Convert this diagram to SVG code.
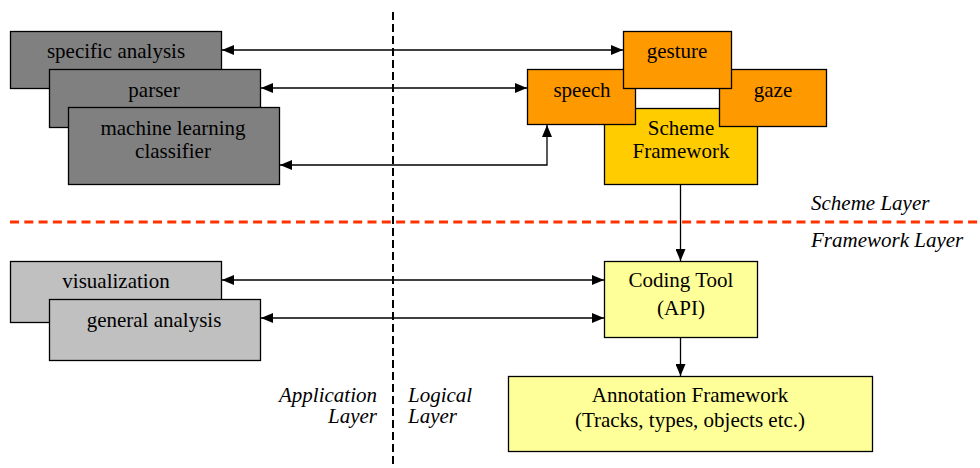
<svg xmlns="http://www.w3.org/2000/svg" width="980" height="468" viewBox="0 0 980 468" font-family="'Liberation Serif', 'Times New Roman', serif">
  <defs>
    <marker id="arrow" viewBox="0 0 12 10" refX="12" refY="5" markerWidth="12" markerHeight="10" markerUnits="userSpaceOnUse" orient="auto-start-reverse">
      <path d="M0,0 L12,5 L0,10 Z" fill="#000"/>
    </marker>
  </defs>
  <style>
    .box { stroke: #000; stroke-width: 1.3; }
    .dark { fill: #808080; }
    .light { fill: #c0c0c0; }
    .orange { fill: #ff9900; }
    .scheme { fill: #ffcc00; }
    .pale { fill: #ffff99; }
    .t { font-family: 'Liberation Serif', 'Times New Roman', serif; font-size: 21px; fill: #000; }
    .c { text-anchor: middle; }
    .it { font-style: italic; }
    .link { fill: none; stroke: #000; stroke-width: 1.3; }
  </style>
  <rect width="980" height="468" fill="#fff"/>

  <!-- layer separators -->
  <line x1="393" y1="12" x2="393" y2="468" stroke="#000" stroke-width="2" stroke-dasharray="8 4"/>
  <line x1="10" y1="222" x2="980" y2="222" stroke="#ff3300" stroke-width="3" stroke-dasharray="9 5.3"/>

  <!-- application layer: scheme-specific tools -->
  <g id="specific-analysis">
    <rect class="box dark" x="10.5" y="31.5" width="211" height="57"/>
    <text class="t c" x="116" y="58">specific analysis</text>
  </g>
  <g id="parser">
    <rect class="box dark" x="49.5" y="69.5" width="211" height="58"/>
    <text class="t c" x="154" y="97">parser</text>
  </g>
  <g id="ml-classifier">
    <rect class="box dark" x="68.5" y="107.5" width="211" height="77"/>
    <text class="t c" x="173" y="135">machine learning</text>
    <text class="t c" x="173" y="158">classifier</text>
  </g>

  <!-- scheme layer -->
  <g id="scheme-framework">
    <rect class="box scheme" x="604.5" y="108.5" width="153" height="76"/>
    <text class="t c" x="681" y="135">Scheme</text>
    <text class="t c" x="681" y="158">Framework</text>
  </g>
  <g id="speech">
    <rect class="box orange" x="527.5" y="69.5" width="108" height="55"/>
    <text class="t c" x="582" y="97">speech</text>
  </g>
  <g id="gaze">
    <rect class="box orange" x="719.5" y="69.5" width="107" height="57"/>
    <text class="t c" x="773" y="97">gaze</text>
  </g>
  <g id="gesture">
    <rect class="box orange" x="623.5" y="31.5" width="108" height="57"/>
    <text class="t c" x="677" y="58">gesture</text>
  </g>

  <!-- application layer: general tools -->
  <g id="visualization">
    <rect class="box light" x="10.5" y="261.5" width="211" height="61"/>
    <text class="t c" x="116" y="288">visualization</text>
  </g>
  <g id="general-analysis">
    <rect class="box light" x="49.5" y="299.5" width="211" height="61"/>
    <text class="t c" x="154" y="327">general analysis</text>
  </g>

  <!-- framework layer -->
  <g id="coding-tool">
    <rect class="box pale" x="604.5" y="261.5" width="153" height="76"/>
    <text class="t c" x="681" y="287">Coding Tool</text>
    <text class="t c" x="681" y="315">(API)</text>
  </g>
  <g id="annotation-framework">
    <rect class="box pale" x="508.5" y="376.5" width="364" height="75"/>
    <text class="t c" x="690" y="402">Annotation Framework</text>
    <text class="t c" x="690" y="427">(Tracks, types, objects etc.)</text>
  </g>

  <!-- connectors -->
  <g id="connectors">
    <line class="link" x1="222" y1="50" x2="623" y2="50" marker-start="url(#arrow)" marker-end="url(#arrow)"/>
    <line class="link" x1="261" y1="88" x2="527" y2="88" marker-start="url(#arrow)" marker-end="url(#arrow)"/>
    <polyline class="link" points="280,165 547,165 547,125" marker-start="url(#arrow)" marker-end="url(#arrow)"/>
    <line class="link" x1="680.5" y1="185" x2="680.5" y2="261" marker-end="url(#arrow)"/>
    <line class="link" x1="222" y1="280" x2="604" y2="280" marker-start="url(#arrow)" marker-end="url(#arrow)"/>
    <line class="link" x1="261" y1="318" x2="604" y2="318" marker-start="url(#arrow)" marker-end="url(#arrow)"/>
    <line class="link" x1="680.5" y1="338" x2="680.5" y2="376" marker-end="url(#arrow)"/>
  </g>

  <!-- layer labels -->
  <text class="t it" x="811" y="210">Scheme Layer</text>
  <text class="t it" x="811" y="247">Framework Layer</text>
  <text class="t it" x="377" y="402" text-anchor="end">Application</text>
  <text class="t it" x="377" y="423" text-anchor="end">Layer</text>
  <text class="t it" x="408" y="402">Logical</text>
  <text class="t it" x="408" y="423">Layer</text>
</svg>
